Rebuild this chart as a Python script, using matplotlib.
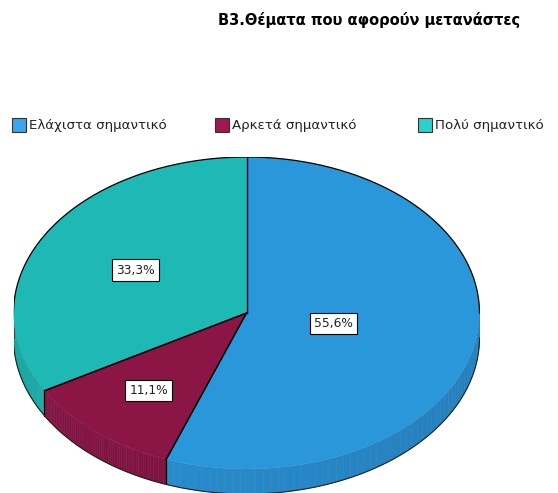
import matplotlib
matplotlib.use("Agg")
import matplotlib.pyplot as plt
from matplotlib.patches import Rectangle, Polygon
import numpy as np

# data
categories = ["Ελάχιστα σημαντικό", "Αρκετά σημαντικό", "Πολύ σημαντικό"]
percents = [55.6, 11.1, 33.3]
title = "B3.Θέματα που αφορούν μετανάστες"

top_colors = ["#2b97db", "#8b1545", "#1eb9b5"]
side_colors = ["#2888c8", "#7b1340", "#1a9f9b"]
legend_colors = ["#38a6f0", "#a0184f", "#26d3cf"]
label_dist = [0.38, 0.65, 0.55]

plt.rcParams["font.family"] = ["DejaVu Sans"]

W, H = 558, 493
fig = plt.figure(figsize=(W / 100, H / 100), dpi=100)

# pie ellipse: centre (246.5, 313) px, half axes 233 x 156 px
cx, cy, a, b = 246.5, 313, 233, 156
top_px = cy - b
y_low = 1 - (H - top_px) / b
ax = fig.add_axes([(cx - a) / W, 0, 2 * a / W, (H - top_px) / H])

depth = 25 / b

wedges, _ = ax.pie(percents, colors=top_colors, startangle=90, counterclock=False,
                   wedgeprops=dict(edgecolor="none", linewidth=0), radius=1)
for w in wedges:
    w.set_zorder(3)

# side of the "3d" disc (front half only)
for w, col in zip(wedges, side_colors):
    t1, t2 = w.theta1, w.theta2
    lo, hi = max(t1, -180), min(t2, 0)
    if hi <= lo:
        continue
    steps = np.linspace(lo, hi, 60)
    for s0, s1 in zip(steps[:-1], steps[1:]):
        t = np.radians(np.linspace(s0, s1, 3))
        xs = np.cos(t)
        ys = np.sin(t)
        shade = 0.94 + 0.12 * (np.cos(np.radians((s0 + s1) / 2)) * -0.5 + 0.5)
        rgb = np.clip(np.array(matplotlib.colors.to_rgb(col)) * shade, 0, 1)
        pts = np.concatenate([np.column_stack([xs, ys]),
                              np.column_stack([xs[::-1], ys[::-1] - depth])])
        ax.add_patch(Polygon(pts, closed=True, facecolor=rgb, edgecolor=rgb,
                             linewidth=0.4, zorder=1))
    for ang in (lo, hi):
        if -179.9 < ang < -0.1:
            r = np.radians(ang)
            ax.plot([np.cos(r)] * 2, [np.sin(r), np.sin(r) - depth],
                    color="black", linewidth=0.8, zorder=2)

# bottom rim of the side
t = np.radians(np.linspace(-180, 0, 300))
ax.plot(np.cos(t), np.sin(t) - depth, color="#222222", linewidth=0.8, zorder=2)
for ang in (0, -180):
    r = np.radians(ang)
    ax.plot([np.cos(r)] * 2, [0, -depth], color="#333333", linewidth=0.6, zorder=2)

# outlines of the top face (back rim and slice borders)
t = np.radians(np.linspace(0, 180, 300))
ax.plot(np.cos(t), np.sin(t), color="black", linewidth=0.9, zorder=4)
for w in wedges:
    for ang in (w.theta1, w.theta2):
        r = np.radians(ang)
        ax.plot([0, np.cos(r)], [0, np.sin(r)], color="black", linewidth=0.9, zorder=4)

# percentage labels
for w, p, d in zip(wedges, percents, label_dist):
    mid = np.radians((w.theta1 + w.theta2) / 2)
    ax.text(d * np.cos(mid), d * np.sin(mid), f"{p:.1f}%".replace(".", ","),
            ha="center", va="center", fontsize=8.8, color="#222222", zorder=5,
            bbox=dict(boxstyle="square,pad=0.35", fc="white", ec="black", lw=0.8))

ax.set_aspect("auto")
ax.set_xlim(-1, 1)
ax.set_ylim(y_low, 1)
ax.axis("off")

# title
fig.text(218 / W, 1 - 20 / H, title, fontsize=10.5, fontweight="bold",
         ha="left", va="center")

# legend row
leg_x = [12, 215, 418]
for x, lab, col in zip(leg_x, categories, legend_colors):
    fig.patches.append(Rectangle((x / W, 1 - 132 / H), 14 / W, 14 / H,
                                 transform=fig.transFigure, facecolor=col,
                                 edgecolor="#333333", linewidth=0.8))
    fig.text((x + 17) / W, 1 - 125 / H, lab, fontsize=9.6, color="#222222",
             ha="left", va="center")

fig.savefig("out.png", dpi=100)
